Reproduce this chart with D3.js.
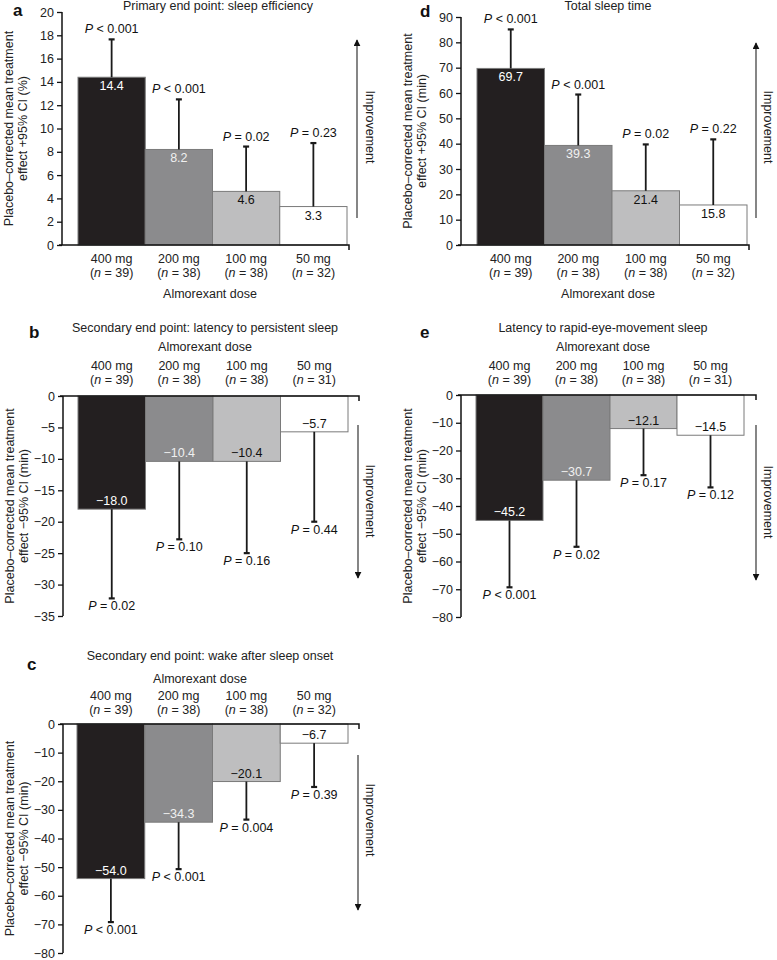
<!DOCTYPE html>
<html>
<head>
<meta charset="utf-8">
<script src="https://cdn.jsdelivr.net/npm/d3@7"></script>
<style>
  html, body { margin: 0; padding: 0; background: #fff; }
  svg { display: block; font-family: "Liberation Sans", Arial, Helvetica, sans-serif; }
</style>
</head>
<body>
<svg id="chart" width="777" height="960"></svg>
<script>
// ---------- data ----------
const doses = ["400 mg", "200 mg", "100 mg", "50 mg"];

const nA = [39, 38, 38, 32];
const meanA = [14.4, 8.2, 4.6, 3.3];
const ciA = [17.65, 12.5, 8.45, 8.75];
const pA = ["< 0.001", "< 0.001", "= 0.02", "= 0.23"];
const ticksA = [0, 2, 4, 6, 8, 10, 12, 14, 16, 18, 20];

const nD = [39, 38, 38, 32];
const meanD = [69.7, 39.3, 21.4, 15.8];
const ciD = [85.1, 59.4, 39.7, 41.7];
const pD = ["< 0.001", "< 0.001", "= 0.02", "= 0.22"];
const ticksD = [0, 10, 20, 30, 40, 50, 60, 70, 80, 90];

const nB = [39, 38, 38, 31];
const meanB = [-18.0, -10.4, -10.4, -5.7];
const ciB = [-32.2, -22.8, -25.0, -20.0];
const pB = ["= 0.02", "= 0.10", "= 0.16", "= 0.44"];
const ticksB = [0, -5, -10, -15, -20, -25, -30, -35];

const nE = [39, 38, 38, 31];
const meanE = [-45.2, -30.7, -12.1, -14.5];
const ciE = [-69.3, -54.7, -28.9, -33.3];
const pE = ["< 0.001", "= 0.02", "= 0.17", "= 0.12"];
const ticksE = [0, -10, -20, -30, -40, -50, -60, -70, -80];

const nC = [39, 38, 38, 32];
const meanC = [-54.0, -34.3, -20.1, -6.7];
const ciC = [-69.2, -50.7, -33.4, -22.0];
const pC = ["< 0.001", "< 0.001", "= 0.004", "= 0.39"];
const ticksC = [0, -10, -20, -30, -40, -50, -60, -70, -80];

const barFill = ["#231f20", "#8b8b8d", "#bebebf", "#ffffff"];
const valueColor = ["#ffffff", "#f0f0f0", "#111111", "#111111"];

// ---------- layout ----------
const panels = [
  { letter: "a", title: "Primary end point: sleep efficiency", ylab2: "effect +95% CI (%)",
    n: nA, mean: meanA, ci: ciA, p: pA, ticks: ticksA, positive: true,
    axisX: 62, barX: [78, 347], axisEnd: 349, yPix: [245, 12],
    letterPos: [13, 16], titlePos: [218, 10], dosePos: [210, 298], catY: [263, 277],
    arrow: [357, 218, 40], impr: [366, 127] },
  { letter: "d", title: "Total sleep time", ylab2: "effect +95% CI (min)",
    n: nD, mean: meanD, ci: ciD, p: pD, ticks: ticksD, positive: true,
    axisX: 461, barX: [477, 747], axisEnd: 749, yPix: [245, 17],
    letterPos: [420, 17], titlePos: [608, 10], dosePos: [608, 298], catY: [263, 277],
    arrow: [756, 218, 43], impr: [764, 127] },
  { letter: "b", title: "Secondary end point: latency to persistent sleep", ylab2: "effect \u221295% CI (min)",
    n: nB, mean: meanB, ci: ciB, p: pB, ticks: ticksB, positive: false,
    axisX: 63, barX: [78, 348], axisEnd: 359, yPix: [616, 396],
    letterPos: [29, 338], titlePos: [205, 332], dosePos: [205, 351], catY: [370, 384],
    arrow: [358, 425, 578], impr: [366, 501] },
  { letter: "e", title: "Latency to rapid-eye-movement sleep", ylab2: "effect \u221295% CI (min)",
    n: nE, mean: meanE, ci: ciE, p: pE, ticks: ticksE, positive: false,
    axisX: 461, barX: [476, 744], axisEnd: 756, yPix: [617, 395],
    letterPos: [420, 338], titlePos: [603, 332], dosePos: [603, 351], catY: [370, 384],
    arrow: [756, 425, 580], impr: [764, 502] },
  { letter: "c", title: "Secondary end point: wake after sleep onset", ylab2: "effect \u221295% CI (min)",
    n: nC, mean: meanC, ci: ciC, p: pC, ticks: ticksC, positive: false,
    axisX: 63, barX: [77, 348], axisEnd: 359, yPix: [953, 724],
    letterPos: [27, 670], titlePos: [210, 660], dosePos: [200, 683], catY: [700, 714],
    arrow: [358, 755, 910], impr: [366, 820] }
];

const svg = d3.select("#chart");
const defs = svg.append("defs");
defs.append("marker").attr("id", "arrowhead")
  .attr("viewBox", "0 0 10 10").attr("refX", 9).attr("refY", 5)
  .attr("markerWidth", 7).attr("markerHeight", 7).attr("markerUnits", "userSpaceOnUse")
  .attr("orient", "auto")
  .append("path").attr("d", "M0,0 L10,5 L0,10 Z").attr("fill", "#111");

const FS = 12.5;
const fmtTick = d3.format("d");
const fmtVal = d3.format(".1f");

panels.forEach(P => {
  const g = svg.append("g");
  const ext = d3.extent(P.ticks);
  const y = d3.scaleLinear().domain(ext).range(P.yPix);
  const x = d3.scaleBand().domain(doses).range(P.barX).padding(0);
  const zeroY = y(0);

  // bars
  g.selectAll("rect.bar").data(doses).join("rect")
    .attr("x", d => x(d))
    .attr("width", x.bandwidth())
    .attr("y", (d, i) => Math.min(y(P.mean[i]), zeroY))
    .attr("height", (d, i) => Math.abs(y(P.mean[i]) - zeroY))
    .attr("fill", (d, i) => barFill[i])
    .attr("stroke", "#7a7a7a").attr("stroke-width", 1);

  // error bars
  const cx = d => x(d) + x.bandwidth() / 2;
  g.selectAll("line.err").data(doses).join("line")
    .attr("x1", cx).attr("x2", cx)
    .attr("y1", (d, i) => y(P.mean[i])).attr("y2", (d, i) => y(P.ci[i]))
    .attr("stroke", "#1a1a1a").attr("stroke-width", 1.8);
  g.selectAll("line.cap").data(doses).join("line")
    .attr("x1", d => cx(d) - 3).attr("x2", d => cx(d) + 3)
    .attr("y1", (d, i) => y(P.ci[i])).attr("y2", (d, i) => y(P.ci[i]))
    .attr("stroke", "#1a1a1a").attr("stroke-width", 2.2);

  // value labels inside bars
  g.selectAll("text.val").data(doses).join("text")
    .attr("x", cx)
    .attr("y", (d, i) => P.positive ? y(P.mean[i]) + 13 : y(P.mean[i]) - 4)
    .attr("text-anchor", "middle")
    .attr("font-size", FS)
    .attr("fill", (d, i) => valueColor[i])
    .text((d, i) => fmtVal(P.mean[i]));

  // P labels
  const pt = g.selectAll("text.p").data(doses).join("text")
    .attr("x", cx)
    .attr("y", (d, i) => P.positive ? y(P.ci[i]) - 6 : y(P.ci[i]) + 12)
    .attr("text-anchor", "middle")
    .attr("font-size", FS)
    .attr("fill", "#111");
  pt.append("tspan").attr("font-style", "italic").text("P");
  pt.append("tspan").text((d, i) => " " + P.p[i]);

  // y axis
  const yAxis = d3.axisLeft(y).tickValues(P.ticks).tickFormat(fmtTick).tickSize(5).tickPadding(3);
  const ya = g.append("g").attr("transform", `translate(${P.axisX},0)`).call(yAxis);
  ya.select(".domain").attr("d", `M0,${P.yPix[1]}V${P.yPix[0]}`).attr("stroke", "#111").attr("stroke-width", 1.5);
  ya.selectAll(".tick line").attr("stroke", "#111").attr("stroke-width", 1.3);
  ya.selectAll(".tick text").attr("font-size", FS).attr("fill", "#222")
    .attr("font-family", "Liberation Sans, Arial, sans-serif");

  // x axis line with end tick
  g.append("path")
    .attr("d", `M${P.axisX - 3},${zeroY}H${P.axisEnd}v5`)
    .attr("fill", "none").attr("stroke", "#111").attr("stroke-width", 1.5);

  // category labels
  const catTop = g.selectAll("text.cat1").data(doses).join("text")
    .attr("x", cx).attr("y", P.catY[0])
    .attr("text-anchor", "middle").attr("font-size", FS).attr("fill", "#222")
    .text(d => d);
  const catN = g.selectAll("text.cat2").data(doses).join("text")
    .attr("x", cx).attr("y", P.catY[1])
    .attr("text-anchor", "middle").attr("font-size", FS).attr("fill", "#222");
  catN.append("tspan").text("(");
  catN.append("tspan").attr("font-style", "italic").text("n");
  catN.append("tspan").text((d, i) => " = " + P.n[i] + ")");

  // dose label
  g.append("text").attr("x", P.dosePos[0]).attr("y", P.dosePos[1])
    .attr("text-anchor", "middle").attr("font-size", FS).attr("fill", "#222")
    .text("Almorexant dose");

  // title
  g.append("text").attr("x", P.titlePos[0]).attr("y", P.titlePos[1])
    .attr("text-anchor", "middle").attr("font-size", FS).attr("fill", "#222")
    .text(P.title);

  // panel letter
  g.append("text").attr("x", P.letterPos[0]).attr("y", P.letterPos[1])
    .attr("font-size", 17).attr("font-weight", "bold").attr("fill", "#111")
    .text(P.letter);

  // y label (two lines)
  const midY = (P.yPix[0] + P.yPix[1]) / 2;
  g.append("text")
    .attr("transform", `translate(${P.axisX - 49},${midY}) rotate(-90)`)
    .attr("text-anchor", "middle").attr("font-size", FS).attr("fill", "#222")
    .text("Placebo\u2013corrected mean treatment");
  g.append("text")
    .attr("transform", `translate(${P.axisX - 35},${midY}) rotate(-90)`)
    .attr("text-anchor", "middle").attr("font-size", FS).attr("fill", "#222")
    .text(P.ylab2);

  // improvement arrow
  g.append("line")
    .attr("x1", P.arrow[0]).attr("x2", P.arrow[0])
    .attr("y1", P.arrow[1]).attr("y2", P.arrow[2])
    .attr("stroke", "#444").attr("stroke-width", 1.3)
    .attr("marker-end", "url(#arrowhead)");
  g.append("text")
    .attr("transform", `translate(${P.impr[0]},${P.impr[1]}) rotate(90)`)
    .attr("text-anchor", "middle").attr("font-size", FS).attr("fill", "#222")
    .text("Improvement");
});
</script>
</body>
</html>
